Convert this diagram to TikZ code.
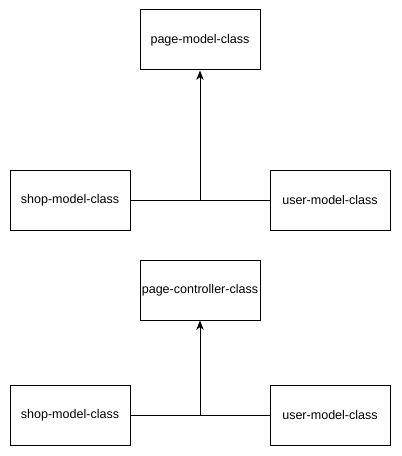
\documentclass[tikz,border=0pt]{standalone}
\usepackage{fontspec}
\setmainfont{Liberation Sans}
\usetikzlibrary{arrows.meta}
\begin{document}
\begin{tikzpicture}[x=0.75pt,y=-0.75pt,
  box/.style={draw,line width=0.75pt,minimum width=90pt,minimum height=45pt,inner sep=0pt,font=\fontsize{9.4}{11}\selectfont},
  conn/.style={line width=0.75pt},
  arr/.style={conn,-{Stealth[length=7pt,width=5.5pt,inset=2pt]}}]
\useasboundingbox (0,0) rectangle (401,456);
\node[box] (pm) at (200,40) {page-model-class};
\node[box] (s1) at (70,200) {shop-model-class};
\node[box] (u1) at (330,200) {user-model-class};
\coordinate (j1) at (200,200);
\draw[conn] (s1.east) -- (u1.west);
\draw[arr] (j1) -- (pm.south);
\node[box] (pc) at (200,290) {page-controller-class};
\node[box] (s2) at (70,415) {shop-model-class};
\node[box] (u2) at (330,415) {user-model-class};
\coordinate (j2) at (200,415);
\draw[conn] (s2.east) -- (u2.west);
\draw[arr] (j2) -- (pc.south);
\end{tikzpicture}
\end{document}
